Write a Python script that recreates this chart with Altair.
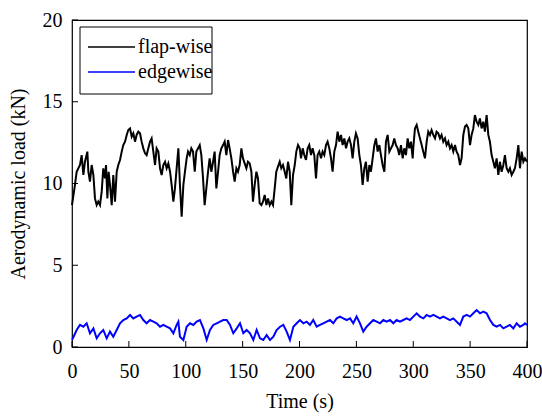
import altair as alt
import pandas as pd

# ---- data ----
time_flap = [0, 2.6, 4.1, 7.0, 8.5, 10.0, 11.4, 13.5, 14.4, 15.8, 17.3, 18.8, 20.2, 21.7, 23.1, 24.6, 26.1, 27.5, 29.0, 29.9,
             31.1, 32.2, 33.4, 34.9, 36.3, 37.8, 39.3, 40.7, 42.2, 43.7, 45.1, 46.6, 48.1, 49.5, 51.0, 52.5, 53.9, 55.4, 56.8, 58.3,
             59.8, 61.2, 62.7, 64.2, 65.6, 67.1, 68.6, 70.0, 71.5, 73.0, 74.4, 75.9, 77.4, 78.8, 80.3, 81.8, 83.2, 84.7, 86.2, 87.6,
             89.1, 90.5, 92.0, 93.5, 94.9, 96.4, 97.9, 99.3, 100.8, 102.0, 103.5, 104.9, 106.4, 107.9, 109.3, 110.8, 112.3, 113.7, 115.2, 116.6,
             118.1, 119.6, 121.0, 122.5, 124.0, 125.4, 126.9, 128.4, 129.8, 131.3, 132.8, 134.2, 135.7, 137.2, 138.6, 140.1, 141.6, 143.0, 144.5, 145.9,
             147.4, 148.9, 150.3, 151.8, 153.3, 154.7, 156.2, 157.7, 159.1, 160.6, 162.1, 163.5, 165.0, 166.5, 167.9, 169.4, 170.9, 172.3, 173.8, 175.3,
             176.7, 178.2, 179.6, 181.1, 182.6, 184.0, 185.5, 187.0, 188.4, 189.9, 191.4, 192.8, 194.3, 195.8, 197.2, 198.7, 200.2, 201.3, 202.8, 204.2,
             205.7, 207.2, 208.6, 210.1, 211.5, 213.0, 214.5, 215.9, 217.4, 218.9, 220.3, 221.8, 223.3, 224.7, 226.2, 227.7, 229.1, 230.6, 232.1, 233.5,
             235.0, 236.5, 237.9, 239.4, 240.9, 242.3, 243.8, 245.3, 246.7, 248.2, 249.6, 251.1, 252.6, 254.0, 255.5, 257.0, 258.4, 259.9, 261.4, 262.8,
             264.3, 265.8, 267.2, 268.7, 270.2, 271.6, 273.1, 274.6, 276.0, 277.5, 279.0, 280.4, 281.9, 283.3, 284.8, 286.3, 287.7, 289.2, 290.7, 292.1,
             293.6, 295.1, 296.5, 298.0, 299.5, 300.0, 301.5, 303.0, 304.4, 305.9, 307.4, 308.8, 310.3, 311.8, 313.2, 314.7, 316.1, 317.6, 319.1, 320.5,
             322.0, 323.5, 324.9, 326.4, 327.9, 329.3, 330.8, 332.3, 333.7, 335.2, 336.7, 338.1, 339.6, 341.1, 342.5, 344.0, 345.5, 346.9, 348.4, 349.9,
             351.3, 352.8, 354.2, 355.7, 357.2, 358.6, 360.1, 361.6, 363.0, 364.5, 366.0, 367.4, 368.9, 370.4, 371.8, 373.3, 374.8, 376.2, 377.7, 379.2,
             380.6, 382.1, 383.6, 385.0, 386.5, 388.0, 389.4, 390.9, 392.4, 393.8, 395.3, 396.8, 398.2, 400.0]
load_flap = [8.68, 9.91, 10.72, 11.13, 11.74, 10.52, 11.33, 11.95, 10.72, 10.11, 11.13, 10.52, 9.09, 8.68, 8.89, 8.68, 9.50, 10.93, 10.31, 11.13,
             9.09, 10.72, 9.91, 8.68, 10.52, 8.89, 10.72, 11.13, 11.44, 11.95, 12.35, 12.56, 12.97, 13.27, 13.37, 12.87, 13.07, 12.56, 12.97, 13.17,
             13.07, 12.56, 12.15, 11.85, 11.74, 12.15, 12.56, 12.76, 11.95, 11.13, 12.15, 11.95, 10.93, 10.52, 11.13, 11.33, 10.93, 11.23, 10.72, 9.91,
             8.89, 9.70, 10.93, 12.15, 9.91, 7.97, 9.91, 10.72, 11.54, 11.95, 11.74, 12.15, 11.95, 10.72, 11.95, 12.15, 12.35, 11.74, 10.31, 8.68,
             9.70, 10.72, 11.54, 10.72, 11.33, 11.95, 9.70, 10.72, 11.74, 12.15, 12.35, 12.56, 11.74, 12.66, 12.15, 11.54, 10.72, 10.11, 10.93, 10.72,
             11.13, 12.15, 11.54, 11.23, 10.93, 11.33, 11.23, 10.72, 8.89, 9.91, 10.72, 10.31, 8.79, 8.68, 8.89, 9.30, 8.68, 9.09, 8.68, 8.89,
             8.68, 9.70, 10.72, 11.03, 11.33, 10.93, 11.13, 10.72, 10.31, 11.33, 10.72, 8.68, 10.52, 11.13, 11.95, 12.35, 12.15, 11.54, 12.15, 11.74,
             11.44, 12.15, 12.35, 11.74, 12.15, 11.74, 10.31, 11.74, 11.95, 11.54, 11.95, 11.74, 12.35, 12.56, 12.15, 11.54, 10.72, 11.95, 12.35, 13.17,
             12.56, 12.97, 12.35, 12.76, 12.15, 12.56, 12.76, 12.35, 11.54, 12.56, 13.07, 12.76, 11.74, 11.13, 9.91, 10.93, 11.33, 10.11, 11.13, 10.72,
             11.54, 12.35, 12.76, 11.95, 12.35, 11.74, 11.13, 10.72, 12.56, 12.97, 11.95, 12.15, 12.35, 12.76, 12.35, 12.15, 11.74, 12.35, 11.54, 12.15,
             11.74, 12.76, 12.15, 12.56, 11.54, 12.15, 13.37, 13.58, 13.17, 12.76, 12.35, 11.95, 11.54, 12.56, 13.17, 12.97, 13.27, 12.97, 12.76, 13.17,
             13.07, 12.76, 12.97, 12.56, 12.76, 12.35, 12.56, 12.15, 12.35, 11.95, 12.35, 11.95, 11.74, 11.13, 11.54, 12.97, 13.48, 13.58, 13.37, 12.35,
             12.97, 13.37, 14.19, 13.78, 13.58, 13.98, 13.37, 13.78, 13.17, 14.19, 12.97, 12.56, 11.74, 11.33, 10.93, 11.54, 10.52, 11.33, 10.72, 11.13,
             11.74, 10.93, 10.72, 10.93, 10.52, 10.72, 10.93, 11.54, 12.35, 10.93, 11.95, 11.33, 11.54, 11.33]

time_edge = [0, 1.2, 4.1, 7.0, 10.0, 12.9, 15.8, 18.8, 21.7, 24.6, 27.5, 30.5, 33.4, 36.3, 39.3, 42.2, 45.1, 48.1, 51.0, 53.9,
             56.8, 59.8, 62.7, 65.6, 68.6, 71.5, 74.4, 77.4, 80.3, 83.2, 86.2, 89.1, 92.0, 93.5, 94.9, 97.9, 100.8, 103.7, 106.7, 109.6,
             112.5, 115.5, 118.4, 121.3, 124.2, 127.2, 130.1, 133.0, 136.0, 138.9, 141.8, 144.8, 147.7, 150.6, 153.5, 156.5, 159.4, 162.3, 165.3, 168.2,
             171.1, 174.1, 177.0, 179.9, 182.9, 185.8, 188.7, 191.6, 194.6, 197.5, 200.4, 203.4, 206.3, 209.2, 212.1, 215.1, 218.0, 220.9, 223.9, 226.8,
             229.7, 232.7, 235.6, 238.5, 241.5, 244.4, 247.3, 250.2, 253.2, 256.1, 259.0, 262.0, 264.9, 267.8, 270.8, 273.7, 276.6, 279.6, 282.5, 285.4,
             288.3, 291.3, 294.2, 297.1, 300.1, 303.0, 305.9, 308.9, 311.8, 314.7, 317.7, 320.6, 323.5, 326.4, 329.4, 332.3, 335.2, 338.2, 341.1, 344.0,
             347.0, 349.9, 352.8, 355.7, 358.7, 361.6, 364.5, 367.5, 370.4, 373.3, 376.3, 379.2, 382.1, 385.0, 388.0, 390.9, 393.8, 396.8, 398.2, 400.0]
load_edge = [0.45, 0.60, 1.04, 1.35, 1.24, 1.45, 0.84, 1.14, 0.53, 0.84, 1.04, 0.53, 0.94, 0.63, 1.04, 1.45, 1.65, 1.75, 1.96, 1.75,
             1.86, 1.96, 1.65, 1.45, 1.65, 1.55, 1.45, 1.24, 1.35, 1.24, 1.14, 0.84, 1.35, 1.55, 0.63, 0.43, 1.24, 1.45, 1.35, 1.55,
             1.65, 1.14, 0.43, 1.04, 1.35, 1.45, 1.55, 1.65, 1.65, 1.35, 0.84, 1.14, 1.45, 0.84, 1.04, 0.84, 0.43, 1.04, 0.53, 0.43,
             0.73, 0.43, 0.63, 1.04, 1.24, 1.35, 0.94, 0.43, 1.24, 1.45, 1.65, 1.45, 1.55, 1.35, 1.65, 1.24, 1.35, 1.45, 1.55, 1.65,
             1.45, 1.75, 1.86, 1.75, 1.65, 1.75, 1.45, 1.86, 1.45, 0.94, 1.24, 1.45, 1.65, 1.55, 1.45, 1.65, 1.55, 1.65, 1.45, 1.65,
             1.55, 1.65, 1.75, 1.65, 1.86, 2.06, 1.86, 1.75, 1.96, 1.86, 1.96, 1.86, 1.75, 1.86, 1.75, 1.65, 1.75, 1.55, 1.35, 1.86,
             1.96, 1.86, 2.06, 2.26, 2.06, 2.16, 2.06, 1.65, 1.35, 1.24, 1.35, 1.14, 1.24, 1.35, 1.14, 1.45, 1.24, 1.35, 1.45, 1.35]

series_names = ["flap-wise", "edgewise"]
series_colors = ["#000000", "#0000ff"]
x_ticks = [0, 50, 100, 150, 200, 250, 300, 350, 400]
y_ticks = [0, 5, 10, 15, 20]

df = pd.concat([
    pd.DataFrame({"t": time_flap, "load": load_flap, "series": series_names[0]}),
    pd.DataFrame({"t": time_edge, "load": load_edge, "series": series_names[1]}),
], ignore_index=True)

W, H = 455, 327
FONT = "Liberation Serif"
x_scale = alt.Scale(domain=[0, 400], nice=False, zero=False)
y_scale = alt.Scale(domain=[0, 20], nice=False, zero=False)

x_axis = alt.Axis(values=x_ticks, title="Time (s)", format="d", ticks=False, domain=False, grid=False,
                  labelFlush=False, labelOverlap=False, labelPadding=14, titlePadding=10)
y_axis = alt.Axis(values=y_ticks, title="Aerodynamic load (kN)", format="d", ticks=False, domain=False,
                  grid=False, labelFlush=False, labelOverlap=False, labelPadding=10, titlePadding=14)

lines = alt.Chart(df).mark_line(strokeWidth=2.0).encode(
    x=alt.X("t:Q", scale=x_scale, axis=x_axis),
    y=alt.Y("load:Q", scale=y_scale, axis=y_axis),
    color=alt.Color("series:N", scale=alt.Scale(domain=series_names, range=series_colors), legend=None),
    detail="series:N",
)

# inward tick marks
xt = alt.Chart(pd.DataFrame({"t": x_ticks})).mark_rule(color="black", strokeWidth=1).encode(
    x=alt.X("t:Q", scale=x_scale, axis=x_axis), y=alt.value(H), y2=alt.value(H - 6))
yt = alt.Chart(pd.DataFrame({"load": y_ticks})).mark_rule(color="black", strokeWidth=1).encode(
    y=alt.Y("load:Q", scale=y_scale, axis=y_axis), x=alt.value(0), x2=alt.value(6))

# legend box (inside the plot, upper left)
legend_layers = [
    alt.Chart(pd.DataFrame({"k": [0]})).mark_rect(fill="white", stroke="black", strokeWidth=1).encode(
        x=alt.value(8), x2=alt.value(140), y=alt.value(7), y2=alt.value(74))
]
for i, (name, col) in enumerate(zip(series_names, series_colors)):
    yy = 27 + 25 * i
    legend_layers.append(
        alt.Chart(pd.DataFrame({"k": [0]})).mark_rule(color=col, strokeWidth=1.5).encode(
            x=alt.value(16), x2=alt.value(63), y=alt.value(yy)))
    legend_layers.append(
        alt.Chart(pd.DataFrame({"k": [name]})).mark_text(
            align="left", baseline="middle", font=FONT, fontSize=20, color="black").encode(
            x=alt.value(66), y=alt.value(yy), text="k:N"))

chart = alt.layer(lines, xt, yt, *legend_layers).properties(
    width=W, height=H,
    autosize=alt.AutoSizeParams(type="none"),
    padding={"left": 72, "top": 20, "right": 15, "bottom": 69},
).configure(background="white").configure_view(stroke="black", strokeWidth=1.2).configure_axis(
    labelFont=FONT, labelFontSize=20, labelColor="black", titleFont=FONT, titleFontSize=20,
    titleColor="black", titleFontWeight="normal"
)

chart.save("out.html", embed_options={"renderer": "svg", "actions": False})
